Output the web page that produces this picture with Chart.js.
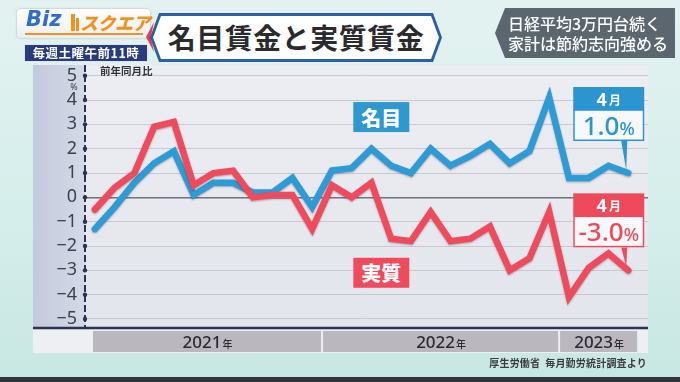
<!DOCTYPE html>
<html>
<head>
<meta charset="utf-8">
<script src="https://cdn.jsdelivr.net/npm/chart.js@4.4.0/dist/chart.umd.min.js"></script>
<style>
body{margin:0;width:680px;height:382px;overflow:hidden;position:relative;
  background:linear-gradient(180deg,#e3f2f1 0%,#d6eeeb 55%,#c8e7e2 100%);
  font-family:"Noto Sans CJK JP","Noto Sans",sans-serif;}
canvas{position:absolute;left:0;top:0}
.abs{position:absolute}
#logo{left:17px;top:9px;width:133px;height:29px;border-radius:4px;
  background:linear-gradient(#ffffff,#eaeef2);box-shadow:0 0 2px rgba(0,0,0,.35)}
#badge{left:25px;top:45px;width:122px;height:16px;background:#283c7c;color:#fff;
  font:700 12.5px "Noto Sans CJK JP";line-height:16px;text-align:center;letter-spacing:0.5px;
  box-shadow:0 0 0 1px #dfe6f0}
#titleOuter{left:150px;top:13px;width:292px;height:49px;background:#2d5ea6;
  clip-path:polygon(9px 0,283px 0,292px 50%,283px 100%,9px 100%,0 50%)}
#titleInner{left:3px;top:3px;width:286px;height:43px;background:#fff;
  clip-path:polygon(8px 0,278px 0,286px 50%,278px 100%,8px 100%,0 50%);
  font:700 28px "Noto Sans CJK JP";color:#2b2b2e;line-height:43px;text-align:center;letter-spacing:0.5px}
#redTip{left:146px;top:22px;width:8px;height:30px;background:#e0404f;
  clip-path:polygon(100% 0,0 50%,100% 100%,60% 50%)}
#news{left:495px;top:8px;width:180px;height:50px;background:rgba(72,82,92,0.88);
  clip-path:polygon(10px 0,100% 0,100% 100%,10px 100%,0 50%);
  color:#fff;font:500 16px "Noto Sans CJK JP";line-height:20px;padding:5px 0 0 13px;box-sizing:border-box}
#unit{left:100px;top:63px;font:700 10.5px "Noto Sans CJK JP";color:#33363d}
#src{right:33px;top:355px;font:700 10px "Noto Sans CJK JP";color:#3a3c42;letter-spacing:0.2px}
#edge{left:0;top:377px;width:680px;height:5px;background:#30363c}
</style>
</head>
<body>
<canvas id="c" width="680" height="382"></canvas>

<div id="logo" class="abs">
  <span class="abs" style="left:9px;top:-2px;font:italic 900 21px 'DejaVu Sans';color:#2f6dc6">Biz</span>
  <div class="abs" style="left:54px;top:5px;width:4px;height:17px;background:#ef9320"></div>
  <div class="abs" style="left:59px;top:9px;width:3px;height:13px;background:#ef9320"></div>
  <span class="abs" style="left:63px;top:0px;font:italic 900 18px 'Noto Sans CJK JP';color:#ef9320;letter-spacing:-0.5px">スクエア</span>
  <div class="abs" style="left:8px;top:24px;width:118px;height:2px;background:#ef9320"></div>
</div>
<div id="badge" class="abs">毎週土曜午前11時</div>

<div id="redTip" class="abs"></div>
<div id="titleOuter" class="abs"><div id="titleInner" class="abs">名目賃金と実質賃金</div></div>

<div id="news" class="abs">日経平均3万円台続く<br>家計は節約志向強める</div>

<div id="unit" class="abs">前年同月比</div>
<div id="src" class="abs">厚生労働省&nbsp; 毎月勤労統計調査より</div>
<div id="edge" class="abs"></div>

<script>
// 2021年1月 〜 2023年4月 (前年同月比, %)
const months = [
  '2021-01','2021-02','2021-03','2021-04','2021-05','2021-06','2021-07','2021-08','2021-09','2021-10','2021-11','2021-12',
  '2022-01','2022-02','2022-03','2022-04','2022-05','2022-06','2022-07','2022-08','2022-09','2022-10','2022-11','2022-12',
  '2023-01','2023-02','2023-03','2023-04'];
const nominal = [-1.3,-0.4,0.6,1.4,1.9,0.1,0.6,0.6,0.2,0.2,0.8,-0.4,
                 1.1,1.2,2.0,1.3,1.0,2.0,1.3,1.7,2.2,1.4,1.9,4.1,
                 0.8,0.8,1.3,1.0];
const real = [-0.5,0.4,1.0,2.9,3.1,0.5,1.0,1.1,0.0,0.1,0.1,-1.3,
              0.5,0.0,0.6,-1.7,-1.8,-0.6,-1.8,-1.7,-1.2,-3.0,-2.5,-0.6,
              -4.1,-2.9,-2.3,-3.0];
const yTicks = [5,4,3,2,1,0,-1,-2,-3,-4,-5];
const seriesNames = ['名目','実質'];
const blue = '#2c9bd6';
const red = '#ef4b5c';
const navy = '#2b3352';

const years = [...new Set(months.map(m => m.slice(0,4)))];

const panelPlugin = {
  id:'panel',
  beforeDraw(chart){
    const {ctx, chartArea:a} = chart;
    ctx.save();
    // panel
    ctx.fillStyle = '#edeff3';
    ctx.fillRect(33, a.top, a.right-33, 353-a.top);
    // left strip
    let g = ctx.createLinearGradient(33,0,a.left,0);
    g.addColorStop(0,'#c4cadd'); g.addColorStop(1,'#d4d9e7');
    ctx.fillStyle = g;
    ctx.fillRect(33, a.top, a.left-33, a.bottom-a.top);
    // plot bg
    g = ctx.createLinearGradient(0,a.top,0,a.bottom);
    g.addColorStop(0,'#eceef3'); g.addColorStop(1,'#e3e5ec');
    ctx.fillStyle = g;
    ctx.fillRect(a.left, a.top, a.right-a.left, a.bottom-a.top);
    // year bands
    const xs = chart.scales.x;
    years.forEach(y => {
      const first = months.findIndex(m => m.startsWith(y));
      const last = months.length-1-[...months].reverse().findIndex(m => m.startsWith(y));
      const x0 = Math.max(xs.getPixelForValue(first-0.5)+1, a.left+8);
      const x1 = Math.min(xs.getPixelForValue(last+0.5)-1, a.right-2);
      ctx.fillStyle = '#bab7bf';
      ctx.fillRect(x0, a.bottom+3, x1-x0, 21);
      ctx.fillStyle = '#2b2b34';
      ctx.font = '500 17px "Noto Sans"';
      const w1 = ctx.measureText(y).width;
      ctx.font = '500 10px "Noto Sans CJK JP"';
      const w2 = ctx.measureText('年').width;
      const cx = (x0+x1)/2 - (w1+w2)/2;
      ctx.textBaseline = 'alphabetic';
      ctx.font = '500 17px "Noto Sans"';
      ctx.fillText(y, cx, a.bottom+20);
      ctx.font = '500 10px "Noto Sans CJK JP"';
      ctx.fillText('年', cx+w1+1, a.bottom+20);
    });
    ctx.restore();
  },
  afterDraw(chart){
    const {ctx, chartArea:a, scales:{y}} = chart;
    ctx.save();
    // y axis dashed line
    ctx.strokeStyle = navy; ctx.lineWidth = 2;
    ctx.setLineDash([7,3]);
    ctx.beginPath(); ctx.moveTo(a.left, a.top); ctx.lineTo(a.left, a.bottom); ctx.stroke();
    ctx.setLineDash([]);
    // bottom axis line
    ctx.lineWidth = 2.5;
    ctx.beginPath(); ctx.moveTo(33, a.bottom); ctx.lineTo(a.right, a.bottom); ctx.stroke();
    // tick dots
    ctx.fillStyle = navy;
    yTicks.forEach(v => {
      ctx.beginPath(); ctx.arc(a.left, y.getPixelForValue(v), 2.2, 0, Math.PI*2); ctx.fill();
    });
    // % unit
    ctx.fillStyle = '#3c4150';
    ctx.font = '9px "Noto Sans"';
    ctx.textAlign = 'center';
    ctx.fillText('%', 74, y.getPixelForValue(5)+14);
    ctx.restore();
  }
};

const shadowPlugin = {
  id:'lineShadow',
  beforeDatasetDraw(chart){
    const ctx = chart.ctx;
    ctx.save();
    ctx.shadowColor = 'rgba(60,20,30,0.35)';
    ctx.shadowBlur = 2;
    ctx.shadowOffsetY = 1;
  },
  afterDatasetDraw(chart){ chart.ctx.restore(); }
};

function tag(ctx, text, cx, cy, color){
  ctx.fillStyle = color;
  ctx.fillRect(cx-28, cy-15, 56, 30);
  ctx.fillStyle = '#fff';
  ctx.font = '900 20px "Noto Sans CJK JP"';
  ctx.textAlign = 'center'; ctx.textBaseline = 'middle';
  ctx.fillText(text, cx, cy+1);
}

function callout(ctx, px, py, top, color, value){
  const left = px-55, w = 71;
  const m = parseInt(months[months.length-1].slice(5));
  // pointer
  ctx.fillStyle = color;
  ctx.beginPath();
  ctx.moveTo(px-7, top+54); ctx.lineTo(px-1, top+54); ctx.lineTo(px-2, py-3); ctx.closePath(); ctx.fill();
  // header
  ctx.fillRect(left, top, w, 23);
  // value box
  ctx.fillStyle = '#f7f8fa';
  ctx.fillRect(left, top+23, w, 31);
  ctx.strokeStyle = color; ctx.lineWidth = 1.5;
  ctx.strokeRect(left+0.75, top+23, w-1.5, 30.25);
  // header text
  ctx.textBaseline = 'alphabetic';
  ctx.fillStyle = '#fff';
  ctx.font = '700 18px "Noto Sans"';
  const a1 = ctx.measureText(String(m)).width;
  ctx.font = '700 12px "Noto Sans CJK JP"';
  const a2 = ctx.measureText('月').width;
  let x = left + w/2 - (a1+a2+2)/2;
  ctx.textAlign = 'left';
  ctx.font = '700 18px "Noto Sans"';
  ctx.fillText(String(m), x, top+19);
  ctx.font = '700 12px "Noto Sans CJK JP"';
  ctx.fillText('月', x+a1+2, top+18);
  // value text
  const s = value.toFixed(1);
  ctx.fillStyle = color;
  ctx.font = '500 26px "Noto Sans"';
  const b1 = ctx.measureText(s).width;
  ctx.font = '500 18px "Noto Sans"';
  const b2 = ctx.measureText('%').width;
  x = left + w/2 - (b1+b2)/2;
  ctx.font = '500 26px "Noto Sans"';
  ctx.fillText(s, x, top+48);
  ctx.font = '500 18px "Noto Sans"';
  ctx.fillText('%', x+b1, top+48);
}

const labelPlugin = {
  id:'labels',
  afterDatasetsDraw(chart){
    const {ctx, scales:{x,y}} = chart;
    ctx.save();
    tag(ctx, seriesNames[0], x.getPixelForValue(14.5), y.getPixelForValue(3.3), '#2e98cf');
    tag(ctx, seriesNames[1], x.getPixelForValue(14.5), y.getPixelForValue(-3.1), red);
    const li = nominal.length-1;
    const px = x.getPixelForValue(li);
    const pyB = y.getPixelForValue(nominal[li]);
    const pyR = y.getPixelForValue(real[li]);
    callout(ctx, px, pyB, pyB-86, '#2a95d0', nominal[li]);
    callout(ctx, px, pyR, pyR-77, '#ee4a5b', real[li]);
    ctx.restore();
  }
};

new Chart(document.getElementById('c'), {
  type:'line',
  data:{
    datasets:[
      {label:seriesNames[1], data: real.map((v,i)=>({x:i,y:v})), borderColor:red},
      {label:seriesNames[0], data: nominal.map((v,i)=>({x:i,y:v})), borderColor:blue}
    ]
  },
  options:{
    responsive:false,
    animation:false,
    events:[],
    layout:{padding:{left:33,right:32,top:65,bottom:54}},
    elements:{
      line:{borderWidth:6.5, tension:0, borderJoinStyle:'miter', borderCapStyle:'round', fill:false},
      point:{radius:0}
    },
    plugins:{legend:{display:false}, tooltip:{enabled:false}},
    scales:{
      x:{type:'linear', min:-0.5, max:28, display:false},
      y:{
        min:-5.37, max:5.44,
        afterBuildTicks(s){ s.ticks = yTicks.map(v=>({value:v})); },
        afterFit(s){ s.width = 52; },
        border:{display:false},
        grid:{
          drawTicks:false,
          color:c => c.tick && c.tick.value===0 ? '#70747e' : '#c8cad2',
          lineWidth:c => c.tick && c.tick.value===0 ? 1.6 : 1
        },
        ticks:{
          padding:8, color:'#3c4150',
          font:{family:'"Noto Sans"', size:18, weight:'400'},
          callback:v => v<0 ? '\u2212'+Math.abs(v) : String(v)
        }
      }
    }
  },
  plugins:[panelPlugin, shadowPlugin, labelPlugin]
});
</script>
</body>
</html>
